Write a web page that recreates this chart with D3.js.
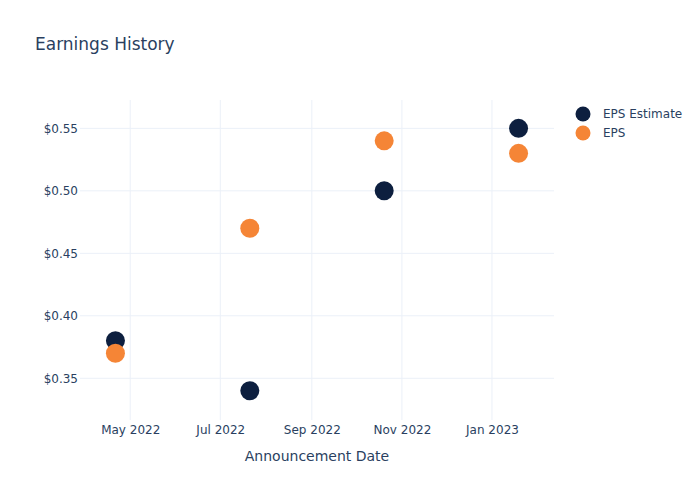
<!DOCTYPE html>
<html>
<head>
<meta charset="utf-8">
<script src="https://cdn.jsdelivr.net/npm/d3@7"></script>
<style>
  body { margin: 0; background: #fff; }
  svg { font-family: "DejaVu Sans", Verdana, sans-serif; }
</style>
</head>
<body>
<svg id="chart" width="700" height="500"></svg>
<script>
const dates = ["2022-04-21", "2022-07-21", "2022-10-20", "2023-01-19"];
const epsEstimate = [0.38, 0.34, 0.50, 0.55];
const epsActual = [0.37, 0.47, 0.54, 0.53];
const seriesNames = ["EPS Estimate", "EPS"];
const seriesColors = ["#0d1f3f", "#f58536"];
const yTicks = [0.35, 0.40, 0.45, 0.50, 0.55];
const xDomain = ["2022-03-28", "2023-02-12"];
const yDomain = [0.3166, 0.5727];

const svg = d3.select("#chart");
const W = 700, H = 500;
const m = { left: 80, right: 146, top: 100, bottom: 80 };
const textColor = "#2a3f5f";
const gridColor = "#ebf0f8";

svg.append("rect").attr("width", W).attr("height", H).attr("fill", "#fff");

const x = d3.scaleUtc()
  .domain(xDomain.map(d => new Date(d + "T00:00:00Z")))
  .range([m.left, W - m.right]);
const y = d3.scaleLinear().domain(yDomain).range([H - m.bottom, m.top]);

const xTicks = x.ticks(d3.utcMonth.every(2));

// grid
const g = svg.append("g");
g.selectAll(".vg").data(xTicks).join("line")
  .attr("x1", d => x(d)).attr("x2", d => x(d))
  .attr("y1", m.top).attr("y2", H - m.bottom)
  .attr("stroke", gridColor).attr("stroke-width", 1);
g.selectAll(".hg").data(yTicks).join("line")
  .attr("x1", m.left).attr("x2", W - m.right)
  .attr("y1", d => y(d)).attr("y2", d => y(d))
  .attr("stroke", gridColor).attr("stroke-width", 1);

// axes
const xAxis = d3.axisBottom(x).tickValues(xTicks).tickFormat(d3.utcFormat("%b %Y")).tickSize(0).tickPadding(5);
const xg = svg.append("g").attr("transform", `translate(0,${H - m.bottom})`).call(xAxis);
xg.select(".domain").remove();
xg.selectAll("text").attr("fill", textColor).style("font-size", "12px").style("font-family", "DejaVu Sans");

const yAxis = d3.axisLeft(y).tickValues(yTicks).tickFormat(d3.format("$.2f")).tickSize(0).tickPadding(2);
const yg = svg.append("g").attr("transform", `translate(${m.left},0)`).call(yAxis);
yg.select(".domain").remove();
yg.selectAll("text").attr("fill", textColor).style("font-size", "12px").style("font-family", "DejaVu Sans");

// axis title
svg.append("text").attr("x", (m.left + W - m.right) / 2).attr("y", 461)
  .attr("text-anchor", "middle").attr("fill", textColor).style("font-size", "14px")
  .text("Announcement Date");

// title
svg.append("text").attr("x", 35).attr("y", 50)
  .attr("fill", textColor).style("font-size", "17px").text("Earnings History");

// points
const series = [epsEstimate, epsActual];
series.forEach((vals, i) => {
  svg.append("g").selectAll("circle")
    .data(vals.map((v, j) => ({ date: new Date(dates[j] + "T00:00:00Z"), v })))
    .join("circle")
    .attr("cx", d => x(d.date)).attr("cy", d => y(d.v))
    .attr("r", 9.5).attr("fill", seriesColors[i]);
});

// legend
const lg = svg.append("g");
seriesNames.forEach((name, i) => {
  const yy = 114 + i * 19;
  lg.append("circle").attr("cx", 583).attr("cy", yy).attr("r", 7.5).attr("fill", seriesColors[i]);
  lg.append("text").attr("x", 603).attr("y", yy).attr("dy", "0.35em")
    .attr("fill", textColor).style("font-size", "12px").text(name);
});
</script>
</body>
</html>
